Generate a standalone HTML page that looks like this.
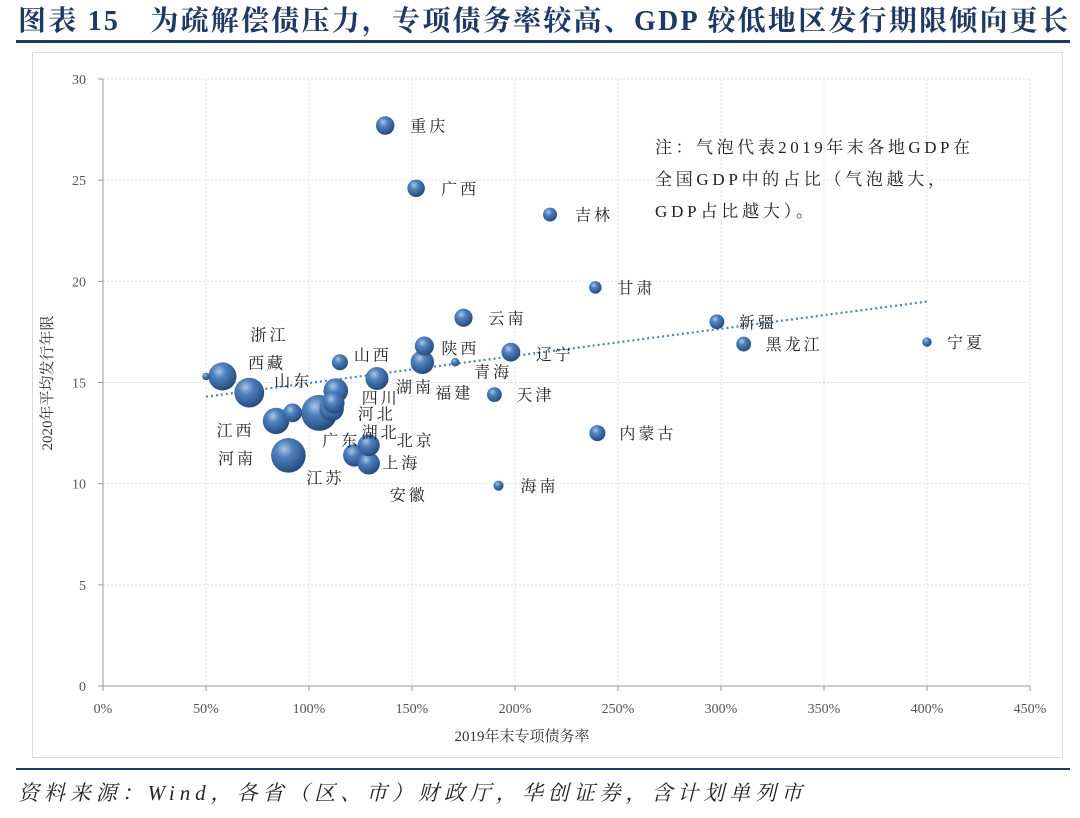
<!DOCTYPE html>
<html><head><meta charset="utf-8"><style>
body{margin:0;background:#fff;width:1080px;height:813px;overflow:hidden;font-family:"Liberation Serif","Noto Serif CJK SC",serif}
</style></head><body>
<svg width="1080" height="813" xmlns="http://www.w3.org/2000/svg">
<defs>
<radialGradient id="bg" cx="0.38" cy="0.32" r="0.7">
<stop offset="0" stop-color="#a9c6ea"/><stop offset="0.35" stop-color="#4f81bd"/><stop offset="1" stop-color="#23497e"/>
</radialGradient>
</defs>
<text x="18" y="30" font-size="28" font-weight="bold" fill="#1f3864" textLength="1050" lengthAdjust="spacing" font-family="Liberation Serif,Noto Serif CJK SC,serif">图表 15　为疏解偿债压力，专项债务率较高、GDP 较低地区发行期限倾向更长</text>
<rect x="16" y="40" width="1054" height="3" fill="#1f3864"/>
<rect x="32.5" y="52.5" width="1030" height="705" fill="none" stroke="#d9d9d9"/>
<g id="grid"></g><g id="axes"></g><g id="trend"></g><g id="bubbles"></g><g id="labels"></g>
<text x="655" y="153" font-size="17" fill="#222" textLength="315" lengthAdjust="spacing">注：气泡代表2019年末各地GDP在</text>
<text x="655" y="185" font-size="17" fill="#222" textLength="290" lengthAdjust="spacing">全国GDP中的占比（气泡越大，</text>
<text x="655" y="217" font-size="17" fill="#222" textLength="158" lengthAdjust="spacing">GDP占比越大）。</text>
<text x="522" y="741" font-size="15" fill="#333" text-anchor="middle">2019年末专项债务率</text>
<text transform="translate(52,383) rotate(-90)" font-size="15" fill="#333" text-anchor="middle">2020年平均发行年限</text>
<rect x="16" y="768" width="1054" height="2" fill="#1f3864"/>
<text x="18" y="800" font-size="21" font-style="italic" fill="#222" textLength="784" lengthAdjust="spacing">资料来源：Wind，各省（区、市）财政厅，华创证券，含计划单列市</text>
</svg>
<script>
const provinces=["重庆","广西","吉林","甘肃","云南","新疆","宁夏","黑龙江","辽宁","福建","陕西","青海","山西","湖南","天津","浙江","山东","四川","广东","湖北","河北","江西","河南","江苏","北京","上海","安徽","海南","内蒙古","西藏"];
const debtRatio=[137,152,217,239,175,298,400,311,198,155,156,171,115,133,190,58,71,113,105,111,112,92,84,90,129,122,129,192,240,50];
const avgYears=[27.7,24.6,23.3,19.7,18.2,18.0,17.0,16.9,16.5,16.0,16.8,16.0,16.0,15.2,14.4,15.3,14.5,14.6,13.5,13.7,14.0,13.5,13.1,11.4,11.9,11.4,11.0,9.9,12.5,15.3];
const gdpShare=[2.4,2.1,1.2,0.9,2.3,1.4,0.4,1.4,2.5,4.2,2.6,0.3,1.7,4.0,1.4,6.3,7.2,4.7,10.9,4.6,3.5,2.5,5.5,10.0,3.6,3.8,3.7,0.5,1.7,0.2];
const xTicks=[0,50,100,150,200,250,300,350,400,450];
const yTicks=[0,5,10,15,20,25,30];
const trendStart=[50,14.3], trendEnd=[400,19.0];
// label layout (pixel offsets from bubble, styling only)
const labelPos={"重庆":[25,6],"广西":[25,6],"吉林":[25,6],"甘肃":[22,6],"云南":[25,6],"新疆":[22,6],"宁夏":[20,6],"黑龙江":[22,6],"辽宁":[25,8],"福建":[13,36],"陕西":[17,8],"青海":[19,15],"山西":[14,-2],"湖南":[19,14],"天津":[22,6],"浙江":[28,-36],"山东":[25,-6],"四川":[26,13],"广东":[3,33],"湖北":[30,29],"河北":[24,17],"江西":[-76,23],"河南":[-58,43],"江苏":[18,28],"北京":[28,1],"上海":[28,13],"安徽":[21,37],"海南":[22,6],"内蒙古":[22,6],"西藏":[42,-8]};
const X0=103,X1=1030,Y0=686,Y1=79;
const sx=v=>X0+(v-0)/450*(X1-X0);
const sy=v=>Y0-(v/30)*(Y0-Y1);
const ns="http://www.w3.org/2000/svg";
function mk(t,a,p){const e=document.createElementNS(ns,t);for(const k in a)e.setAttribute(k,a[k]);p.appendChild(e);return e;}
const grid=document.getElementById('grid'),axes=document.getElementById('axes');
xTicks.forEach(t=>{
 if(t>0){const l=mk('line',{x1:sx(t),x2:sx(t),y1:Y1,y2:Y0,stroke:'#e3e3e3','stroke-dasharray':'2,2'},grid);
 }
 const tk=mk('text',{x:sx(t),y:Y0+27,'font-size':14,fill:'#555','text-anchor':'middle'},axes);tk.textContent=t+'%';
 
 const tm=mk('line',{x1:sx(t),x2:sx(t),y1:Y0,y2:Y0+5,stroke:'#999'},axes);
 
});
yTicks.forEach(t=>{
 if(t>0){const l=mk('line',{x1:X0,x2:X1,y1:sy(t),y2:sy(t),stroke:'#e3e3e3','stroke-dasharray':'2,2'},grid);
 }
 const tk=mk('text',{x:86,y:sy(t)+5,'font-size':14,fill:'#555','text-anchor':'end'},axes);tk.textContent=t;
 
 const tm=mk('line',{x1:X0-5,x2:X0,y1:sy(t),y2:sy(t),stroke:'#999'},axes);
 
});
const ya=mk('line',{x1:X0,x2:X0,y1:Y1,y2:Y0,stroke:'#999'},axes);

const xa=mk('line',{x1:X0,x2:X1,y1:Y0,y2:Y0,stroke:'#999'},axes);

const tr=mk('line',{x1:sx(trendStart[0]),y1:sy(trendStart[1]),x2:sx(trendEnd[0]),y2:sy(trendEnd[1]),stroke:'#4f81bd','stroke-width':2.2,'stroke-dasharray':'2,3'},document.getElementById('trend'));

const bub=document.getElementById('bubbles'),lab=document.getElementById('labels');
const order=provinces.map((p,i)=>i).sort((a,b)=>gdpShare[b]-gdpShare[a]);
order.forEach(i=>{
 const r=5*Math.sqrt(gdpShare[i])+1.5;
 const c=mk('circle',{cx:sx(debtRatio[i]),cy:sy(avgYears[i]),r:r,fill:'url(#bg)'},bub);
 
 
});
provinces.forEach((p,i)=>{
 const o=labelPos[p];const t=mk('text',{x:sx(debtRatio[i])+o[0],y:sy(avgYears[i])+o[1],'font-size':16,'letter-spacing':3,fill:'#222'},lab);
 t.textContent=p;
 
 
});
</script>
</body></html>
